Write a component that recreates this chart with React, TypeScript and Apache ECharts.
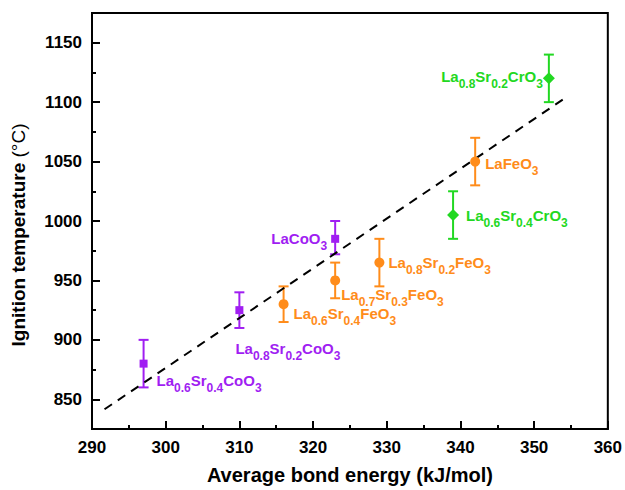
import React, { useEffect, useRef } from "react";
import * as echarts from "echarts";

// ---- data ----
const coNames = ["La_{0.6}Sr_{0.4}CoO_{3}", "La_{0.8}Sr_{0.2}CoO_{3}", "LaCoO_{3}"];
const coX = [297, 310, 323];
const coY = [880, 925, 985];
const coLow = [860, 910, 972];
const coHigh = [900, 940, 1000];

const feNames = ["La_{0.6}Sr_{0.4}FeO_{3}", "La_{0.7}Sr_{0.3}FeO_{3}", "La_{0.8}Sr_{0.2}FeO_{3}", "LaFeO_{3}"];
const feX = [316, 323, 329, 342];
const feY = [930, 950, 965, 1050];
const feLow = [915, 935, 945, 1030];
const feHigh = [945, 965, 985, 1070];

const crNames = ["La_{0.6}Sr_{0.4}CrO_{3}", "La_{0.8}Sr_{0.2}CrO_{3}"];
const crX = [339, 352];
const crY = [1005, 1120];
const crLow = [985, 1100];
const crHigh = [1025, 1140];

const fitX = [291.7, 354.1];
const fitY = [841.6, 1103];

const xTicks = [290, 300, 310, 320, 330, 340, 350, 360];
const yMajorTicks = [850, 900, 950, 1000, 1050, 1100, 1150];
const yMinorTicks = [875, 925, 975, 1025, 1075, 1125];

// ---- layout (label placement per point: [position, dx, dy]) ----
const coLabelPlace: [string, number, number][] = [
  ["right", 9, 19.5],
  ["right", -8, 40.5],
  ["left", -4, 2.5],
];
const feLabelPlace: [string, number, number][] = [
  ["right", 5, 12],
  ["right", 1, 17],
  ["right", 4, 2.5],
  ["right", 5, 4.5],
];
const crLabelPlace: [string, number, number][] = [
  ["right", 7, 2.5],
  ["left", 0, 0.5],
];

const PURPLE = "#A01EF2";
const ORANGE = "#FF8C1A";
const GREEN = "#22D822";
const FONT = "Liberation Sans, Arial, sans-serif";

function toRich(s: string): string {
  const parts = s.split(/(_\{[^}]*\})/).filter((p) => p.length > 0);
  return parts
    .map((p) => (p.startsWith("_{") ? `{s|${p.slice(2, -1)}}` : `{m|${p}}`))
    .join("");
}

function richFor(color: string) {
  return {
    m: { fontSize: 15, fontWeight: 700, fontFamily: FONT, color, height: 15, verticalAlign: "top" },
    s: {
      fontSize: 12,
      fontWeight: 700,
      fontFamily: FONT,
      color,
      height: 10,
      padding: [10, 0, 0, 0],
      verticalAlign: "bottom",
    },
  };
}

function scatterSeries(
  names: string[],
  xs: number[],
  ys: number[],
  place: [string, number, number][],
  color: string,
  symbol: string,
  size: number
) {
  return {
    type: "scatter",
    symbol,
    symbolSize: size,
    z: 5,
    itemStyle: { color, opacity: 1 },
    data: xs.map((x, i) => ({
      name: names[i],
      value: [x, ys[i]],
      label: {
        show: true,
        position: place[i][0],
        distance: 0,
        offset: [place[i][1], place[i][2]],
      },
    })),
    label: {
      show: true,
      formatter: (p: any) => toRich(p.name),
      rich: richFor(color),
    },
    emphasis: { disabled: true },
  };
}

function errorSeries(xs: number[], ys: number[], lo: number[], hi: number[], color: string) {
  return {
    type: "custom",
    z: 3,
    itemStyle: { color },
    data: xs.map((x, i) => [x, ys[i], lo[i], hi[i]]),
    renderItem: (params: any, api: any) => {
      const x = api.value(0);
      const a = api.coord([x, api.value(2)]);
      const b = api.coord([x, api.value(3)]);
      const c = api.visual("color");
      const half = 5;
      const style = { stroke: c, lineWidth: 2 };
      return {
        type: "group",
        children: [
          { type: "line", shape: { x1: a[0], y1: a[1], x2: b[0], y2: b[1] }, style },
          { type: "line", shape: { x1: a[0] - half, y1: a[1], x2: a[0] + half, y2: a[1] }, style },
          { type: "line", shape: { x1: b[0] - half, y1: b[1], x2: b[0] + half, y2: b[1] }, style },
        ],
      };
    },
  };
}

export default function App() {
  const ref = useRef<HTMLDivElement>(null);
  useEffect(() => {
    if (!ref.current) return;
    const chart = echarts.init(ref.current, undefined, { renderer: "svg" });
    const axisLabelStyle = {
      color: "#000",
      fontSize: 17,
      fontWeight: 700,
      fontFamily: FONT,
      formatter: (v: number) => String(v),
    };
    chart.setOption({
      animation: false,
      backgroundColor: "#fff",
      textStyle: { fontFamily: FONT, fontWeight: 700 },
      grid: {
        left: 92,
        right: 17,
        top: 13,
        bottom: 58,
        show: true,
        borderColor: "#000",
        borderWidth: 2,
        backgroundColor: "transparent",
      },
      xAxis: {
        type: "value",
        min: xTicks[0],
        max: xTicks[xTicks.length - 1],
        interval: 10,
        splitLine: { show: false },
        axisLine: { show: true, lineStyle: { color: "#000", width: 2 } },
        axisTick: { show: true, inside: true, length: 8, lineStyle: { color: "#000", width: 2 } },
        minorTick: { show: true, splitNumber: 2, length: 4, lineStyle: { color: "#000", width: 2 } },
        axisLabel: { ...axisLabelStyle, margin: 10 },
        name: "Average bond energy (kJ/mol)",
        nameLocation: "middle",
        nameGap: 36,
        nameTextStyle: { color: "#000", fontSize: 20, fontWeight: 700, fontFamily: FONT },
      },
      yAxis: [
        {
          type: "value",
          min: 825,
          max: 1175,
          splitLine: { show: false },
          axisLine: { show: true, lineStyle: { color: "#000", width: 2 } },
          axisTick: {
            show: true,
            inside: true,
            length: 8,
            customValues: yMajorTicks,
            lineStyle: { color: "#000", width: 2 },
          },
          axisLabel: { ...axisLabelStyle, margin: 10, customValues: yMajorTicks },
          name: "{b|Ignition temperature }{n|(°C)}",
          nameLocation: "middle",
          nameRotate: 90,
          nameGap: 64,
          nameTextStyle: {
            color: "#000",
            fontSize: 19,
            fontFamily: FONT,
            padding: [0, 28, 0, 0],
            rich: {
              b: { fontSize: 19, fontWeight: 700, fontFamily: FONT, color: "#000" },
              n: { fontSize: 19, fontWeight: 400, fontFamily: FONT, color: "#000" },
            },
          },
        },
        {
          type: "value",
          min: 825,
          max: 1175,
          position: "left",
          splitLine: { show: false },
          axisLine: { show: false },
          axisTick: {
            show: true,
            inside: true,
            length: 4,
            customValues: yMinorTicks,
            lineStyle: { color: "#000", width: 2 },
          },
          axisLabel: { show: false },
        },
      ],
      series: [
        {
          type: "line",
          data: fitX.map((x, i) => [x, fitY[i]]),
          showSymbol: false,
          symbol: "none",
          z: 4,
          lineStyle: { color: "#000", width: 2, type: [9, 7] },
          emphasis: { disabled: true },
        },
        errorSeries(coX, coY, coLow, coHigh, PURPLE),
        errorSeries(feX, feY, feLow, feHigh, ORANGE),
        errorSeries(crX, crY, crLow, crHigh, GREEN),
        scatterSeries(coNames, coX, coY, coLabelPlace, PURPLE, "rect", 8),
        scatterSeries(feNames, feX, feY, feLabelPlace, ORANGE, "circle", 10),
        scatterSeries(crNames, crX, crY, crLabelPlace, GREEN, "diamond", 12),
      ],
    });
    return () => chart.dispose();
  }, []);
  return (
    <div
      ref={ref}
      style={{ position: "absolute", left: 0, top: 0, width: 625, height: 490, background: "#fff" }}
    />
  );
}
